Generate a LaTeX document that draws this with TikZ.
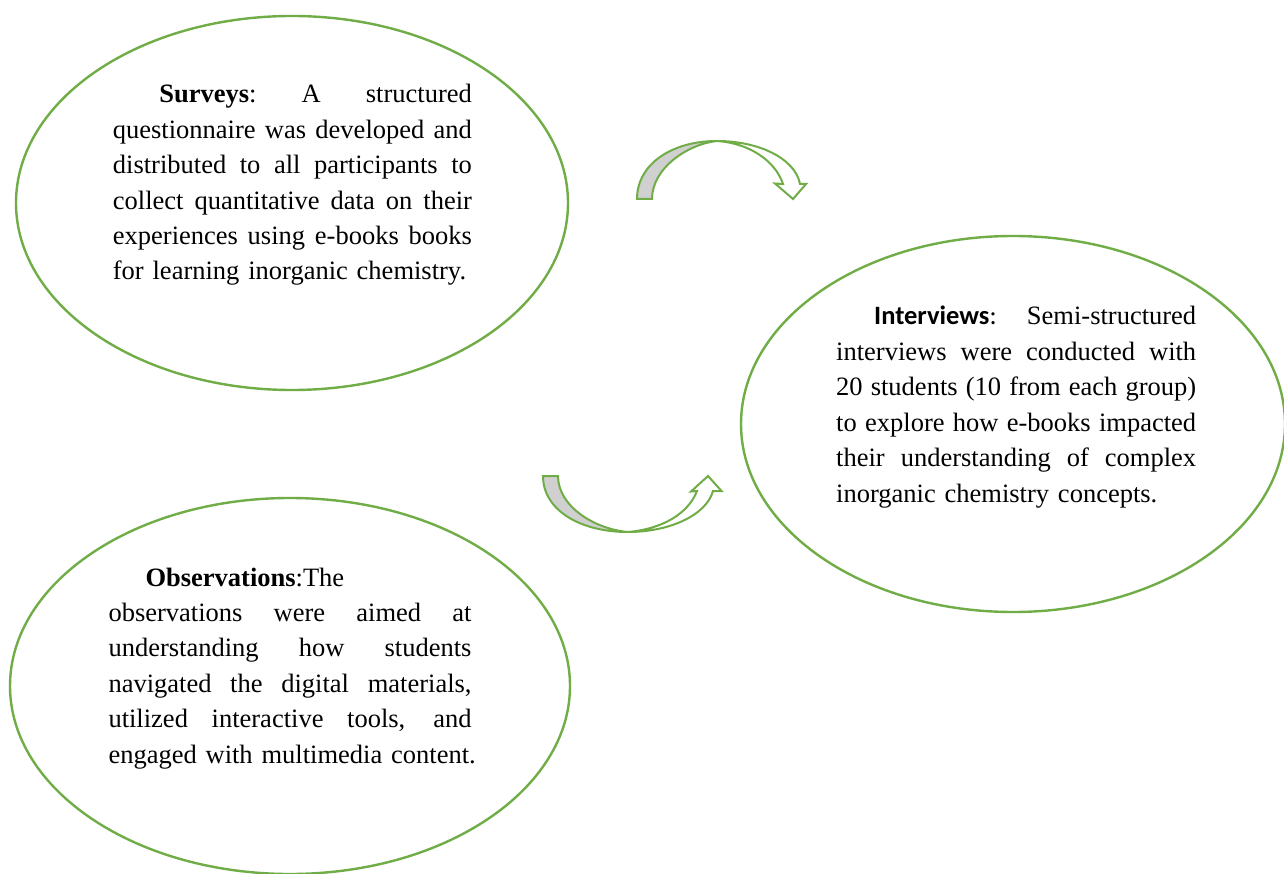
\documentclass[tikz,border=0pt]{standalone}
\usepackage{fontspec}
\setmainfont{Liberation Serif}
\newfontfamily\calibri{Carlito}
\usetikzlibrary{shapes.geometric}
\definecolor{grn}{HTML}{70AD47}
\definecolor{shade}{HTML}{D0D0D0}
\newcommand{\jl}[2]{\makebox[#1][s]{\spaceskip=0.25em plus 20em\xspaceskip=0.25em plus 20em #2}}
\tikzset{
  bubble/.style={ellipse, draw=grn, line width=2.4pt, inner sep=0pt, outer sep=0pt},
  para/.style={anchor=base west, inner sep=0pt, align=left,
    font=\fontsize{26.5pt}{35.4pt}\selectfont},
  blockarrow/.style={draw=grn, line width=2pt, line join=miter},
}
\begin{document}
\begin{tikzpicture}[x=1pt,y=-1pt]
\useasboundingbox (0,0) rectangle (1284,874);
\fill[white] (0,0) rectangle (1284,874);
\clip (0,0) rectangle (1284,874);

% ellipses
\node[bubble, minimum width=552pt, minimum height=374pt] (surveys) at (292,203) {};
\node[bubble, minimum width=544pt, minimum height=376pt] (interviews) at (1013,424) {};
\node[bubble, minimum width=560pt, minimum height=376pt] (observations) at (290,686) {};

% texts
\node[para, text width=380pt] (surveystext) at (112.7,103) {%
\hspace*{46.5pt}\jl{312.5pt}{\textbf{Surveys}: A structured}\\
\jl{359pt}{questionnaire was developed and}\\
\jl{359pt}{distributed to all participants to}\\
\jl{359pt}{collect quantitative data on their}\\
\jl{359pt}{experiences using e-books books}\\
\mbox{for learning inorganic chemistry.}};

\node[para, text width=380pt] (interviewstext) at (836,325) {%
\hspace*{38pt}\jl{322pt}{{\calibri\bfseries Interviews}{\calibri:} Semi-structured}\\
\jl{360pt}{interviews were conducted with}\\
\jl{360pt}{20 students (10 from each group)}\\
\jl{360pt}{to explore how e-books impacted}\\
\jl{360pt}{their understanding of complex}\\
\mbox{inorganic chemistry concepts.}};

\node[para, text width=380pt] (observationstext) at (108.3,586) {%
\hspace*{37pt}\textbf{Observations}:The\\
\jl{363pt}{observations were aimed at}\\
\jl{363pt}{understanding how students}\\
\jl{363pt}{navigated the digital materials,}\\
\jl{363pt}{utilized interactive tools, and}\\
\mbox{engaged with multimedia content.}};

% curved arrow (top, pointing down-right)
\filldraw[blockarrow, fill=shade]
  (637,199) .. controls (637,164) and (672,141) .. (717,141)
  .. controls (688,144) and (652,168) .. (652,199) -- cycle;
\filldraw[blockarrow, fill=white]
  (717,141) .. controls (758,141) and (795,158) .. (800,184)
  -- (806,184) -- (793,199) -- (775,183.5) -- (783,184)
  .. controls (775,160) and (748,143) .. (717,141) -- cycle;

% curved arrow (bottom, pointing up-right)
\filldraw[blockarrow, fill=shade]
  (543,476) .. controls (543,510) and (580,532) .. (628,532)
  .. controls (594,529) and (558,506) .. (558,476) -- cycle;
\filldraw[blockarrow, fill=white]
  (628,532) .. controls (668,532) and (706,516) .. (713,491)
  -- (721.5,491) -- (708,476) -- (691,491.5) -- (697,491)
  .. controls (688,514) and (662,529) .. (628,532) -- cycle;
\end{tikzpicture}
\end{document}
